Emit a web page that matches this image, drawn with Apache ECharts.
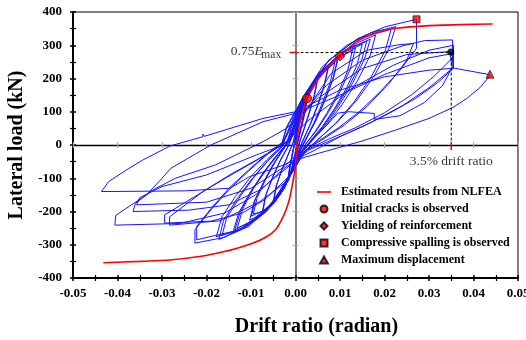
<!DOCTYPE html>
<html><head><meta charset="utf-8">
<script src="https://cdn.jsdelivr.net/npm/echarts@6/dist/echarts.min.js"></script>
<style>html,body{margin:0;padding:0;background:#fff}#c{width:526px;height:340px}</style>
</head><body><div id="c"></div>
<script>
// ---- Data (drift ratio [rad], lateral load [kN]) ----
const c1a = [[0,0],[0.0006,45],[0.0014,95],[0.0026,135],[0.0021,95],[0.0013,50],[0.0006,10],[0.0,-30],[-0.0006,-65],[-0.0014,-100],[-0.0012,-65],[-0.0007,-30],[-0.0002,5]];
const c1b = [[0.0003,35],[0.001,80],[0.0018,112],[0.0024,128],[0.0019,90],[0.0011,45],[0.0004,5],[-0.0002,-35],[-0.0009,-78],[-0.0016,-108],[-0.0013,-70],[-0.0007,-28],[-0.0001,10]];
const c1c = [[0.0002,30],[0.0009,75],[0.0016,105],[0.0021,120],[0.0017,85],[0.001,42],[0.0003,2],[-0.0003,-38],[-0.001,-80],[-0.0018,-112],[-0.0014,-72],[-0.0008,-30],[-0.0002,8]];
const c2a = [[0.0004,55],[0.0014,105],[0.0028,150],[0.0039,178],[0.005,198],[0.0043,150],[0.0032,100],[0.002,50],[0.001,10],[0.0,-40],[-0.0012,-90],[-0.0025,-130],[-0.0038,-155],[-0.005,-170],[-0.0044,-125],[-0.0032,-80],[-0.0018,-35],[-0.0006,5]];
const c2b = [[0.0003,50],[0.0015,105],[0.003,150],[0.0048,190],[0.0041,145],[0.003,95],[0.0018,45],[0.0008,5],[-0.0002,-42],[-0.0015,-98],[-0.003,-138],[-0.0048,-162],[-0.0042,-118],[-0.003,-72],[-0.0017,-30],[-0.0005,8]];
const c3a = [[0.0004,60],[0.0018,120],[0.0035,170],[0.0055,210],[0.0075,240],[0.0066,185],[0.0052,125],[0.0036,70],[0.002,22],[0.0008,-15],[-0.0005,-65],[-0.002,-115],[-0.0038,-155],[-0.0056,-185],[-0.0075,-205],[-0.0068,-155],[-0.0052,-100],[-0.0035,-50],[-0.0018,-8]];
const c3b = [[0.0002,55],[0.0018,125],[0.0038,178],[0.0056,210],[0.0073,232],[0.0064,178],[0.0049,118],[0.0033,62],[0.0018,18],[0.0006,-20],[-0.0008,-75],[-0.0026,-130],[-0.0046,-170],[-0.0073,-198],[-0.0066,-148],[-0.005,-92],[-0.0033,-42],[-0.0016,-2]];
const c4a = [[0.0,60],[0.002,135],[0.0045,195],[0.007,235],[0.0097,268],[0.0086,205],[0.0068,140],[0.0048,80],[0.0028,28],[0.0012,-12],[-0.0005,-70],[-0.0025,-130],[-0.005,-178],[-0.0075,-208],[-0.0103,-226],[-0.0093,-170],[-0.0073,-115],[-0.0052,-62],[-0.003,-18],[-0.0015,10]];
const c4b = [[0.0,65],[0.0025,150],[0.0055,210],[0.0094,255],[0.0083,195],[0.0065,132],[0.0045,72],[0.0026,24],[0.001,-18],[-0.0008,-80],[-0.003,-140],[-0.006,-190],[-0.0099,-214],[-0.009,-162],[-0.007,-108],[-0.0049,-56],[-0.0028,-12],[-0.0013,14]];
const c4c = [[0.0,62],[0.0022,140],[0.005,200],[0.0088,248],[0.0078,188],[0.006,125],[0.0042,68],[0.0024,20],[0.0008,-22],[-0.001,-85],[-0.0035,-150],[-0.0065,-196],[-0.0095,-208],[-0.0086,-158],[-0.0066,-100],[-0.0045,-50],[-0.0025,-8],[-0.001,18]];
const c5a = [[-0.0005,55],[0.0015,130],[0.0045,200],[0.008,250],[0.0115,282],[0.015,303],[0.0138,240],[0.0115,172],[0.0088,110],[0.006,55],[0.0035,15],[0.0015,-20],[-0.0005,-70],[-0.003,-140],[-0.0065,-200],[-0.0105,-240],[-0.0141,-265],[-0.0128,-205],[-0.0103,-145],[-0.0075,-88],[-0.0048,-40],[-0.0025,-5]];
const c5b = [[-0.0008,45],[0.0015,128],[0.005,205],[0.009,255],[0.0135,292],[0.0123,228],[0.01,160],[0.0074,98],[0.0048,45],[0.0026,8],[0.0008,-30],[-0.0012,-90],[-0.004,-160],[-0.008,-215],[-0.0136,-255],[-0.0123,-196],[-0.0098,-136],[-0.007,-80],[-0.0044,-34],[-0.0022,0]];
const c5c = [[-0.0005,50],[0.0018,135],[0.0052,208],[0.0095,262],[0.0128,285],[0.0117,222],[0.0095,155],[0.007,95],[0.0045,42],[0.0024,5],[0.0006,-35],[-0.0015,-100],[-0.0045,-170],[-0.0085,-222],[-0.0131,-250],[-0.0118,-190],[-0.0094,-130],[-0.0066,-75],[-0.004,-30],[-0.002,2]];
const c6a = [[-0.001,50],[0.0015,130],[0.005,210],[0.0095,268],[0.014,308],[0.018,331],[0.0168,270],[0.014,195],[0.0105,122],[0.007,60],[0.004,18],[0.0015,-22],[-0.001,-80],[-0.004,-155],[-0.0085,-220],[-0.013,-258],[-0.0178,-276],[-0.0165,-215],[-0.0135,-155],[-0.01,-95],[-0.0065,-45],[-0.0035,-8]];
const c6b = [[-0.0015,45],[0.0015,135],[0.0055,220],[0.011,285],[0.0168,318],[0.0155,258],[0.0128,185],[0.0096,115],[0.0064,55],[0.0036,12],[0.0012,-28],[-0.0015,-95],[-0.005,-175],[-0.0105,-245],[-0.0172,-284],[-0.0162,-228],[-0.0133,-165],[-0.0098,-102],[-0.0063,-48],[-0.0033,-8]];
const c6c = [[-0.0012,48],[0.0015,132],[0.0055,218],[0.0105,280],[0.016,312],[0.0148,252],[0.0122,180],[0.009,110],[0.006,52],[0.0033,10],[0.001,-30],[-0.0018,-100],[-0.0055,-180],[-0.011,-245],[-0.0165,-272],[-0.0155,-220],[-0.0127,-160],[-0.0094,-98],[-0.006,-45],[-0.003,-6]];
const c7a = [[-0.0015,50],[0.0015,140],[0.006,235],[0.0115,300],[0.017,338],[0.0225,356],[0.021,290],[0.0178,210],[0.0138,135],[0.0095,70],[0.0055,22],[0.002,-20],[-0.001,-85],[-0.005,-170],[-0.01,-235],[-0.016,-278],[-0.0226,-295],[-0.0226,-255],[-0.019,-195],[-0.015,-135],[-0.0105,-78],[-0.0065,-30],[-0.003,5]];
const c7b = [[-0.002,50],[0.002,150],[0.0075,255],[0.014,320],[0.0215,348],[0.0202,285],[0.017,205],[0.0132,130],[0.009,65],[0.0052,18],[0.0018,-25],[-0.0015,-100],[-0.006,-185],[-0.0125,-255],[-0.0222,-285],[-0.0222,-245],[-0.0188,-188],[-0.0148,-128],[-0.0103,-72],[-0.0063,-26],[-0.003,8]];
const c8a = [[-0.002,55],[0.002,150],[0.0075,255],[0.014,320],[0.02,355],[0.0272,378],[0.0272,291],[0.0235,225],[0.019,160],[0.0145,102],[0.0097,52],[0.0055,15],[0.002,-20],[-0.002,-110],[-0.008,-170],[-0.0118,-195],[-0.017,-228],[-0.0283,-241],[-0.0283,-216],[-0.0208,-140],[-0.0148,-90],[-0.0088,-45],[-0.0043,-10],[-0.001,20]];
const c8b = [[0.002,95],[0.008,215],[0.016,285],[0.0235,302],[0.0265,305],[0.025,255],[0.021,185],[0.016,115],[0.011,60],[0.0065,20],[0.0025,-12],[-0.0015,-95],[-0.007,-165],[-0.012,-205],[-0.019,-229],[-0.0294,-235],[-0.0294,-210],[-0.022,-150],[-0.0155,-98],[-0.0095,-52],[-0.0048,-15],[-0.0015,15]];
const c9a = [[0.001,85],[0.007,180],[0.015,255],[0.024,298],[0.029,314],[0.0353,316],[0.0353,262],[0.031,205],[0.026,150],[0.02,97],[0.0135,52],[0.0075,18],[0.0025,-15],[-0.002,-70],[-0.008,-135],[-0.015,-180],[-0.024,-196],[-0.0365,-200],[-0.036,-176],[-0.032,-135],[-0.027,-100],[-0.018,-60],[-0.0073,10],[-0.002,50]];
const c9b = [[0.005,140],[0.015,230],[0.025,272],[0.0347,281],[0.0352,232],[0.033,178],[0.029,128],[0.0235,88],[0.0177,77],[0.0177,95],[0.012,100],[0.0095,96],[0.006,45],[0.002,-8],[-0.003,-70],[-0.01,-130],[-0.02,-172],[-0.0357,-180],[-0.035,-158],[-0.03,-125],[-0.02,-90],[-0.0088,-30],[-0.0028,0]];
const c10 = [[0.003,75],[0.012,165],[0.022,240],[0.03,285],[0.0355,300],[0.0355,231],[0.032,188],[0.027,140],[0.021,95],[0.015,55],[0.009,20],[0.003,-15],[-0.003,-75],[-0.009,-150],[-0.016,-205],[-0.026,-236],[-0.0406,-241],[-0.0404,-212],[-0.038,-190],[-0.0335,-150],[-0.03,-100],[-0.028,-70],[-0.019,0],[-0.0073,70],[0,95],[0.01,150],[0.02,212],[0.03,262],[0.0352,275],[0.0354,232],[0.03,172],[0.024,118],[0.017,68],[0.01,25],[0.004,-18],[-0.003,-62],[-0.0103,-95],[-0.0147,-130],[-0.025,-138],[-0.0436,-140]];
const c11 = [[-0.0436,-135],[-0.042,-110],[-0.038,-75],[-0.0343,-45],[-0.0282,-3],[-0.0208,25],[-0.0208,33],[-0.0205,26],[-0.0073,80],[0,100],[0.01,165],[0.02,205],[0.03,225],[0.0357,231],[0.0435,212],[0.0435,205],[0.0414,172],[0.0385,140],[0.0354,113],[0.03,80],[0.0225,45],[0.015,12],[0.007,-18],[0,-45]];

const nlfea = [[-0.0432,-354],[-0.035,-350],[-0.0283,-346],[-0.0208,-334],[-0.0165,-322],[-0.0133,-311],[-0.0095,-295],[-0.0065,-276],[-0.0045,-255],[-0.0028,-216],[-0.0015,-170],[-0.0005,-105],[0,-60],[0.0003,0],[0.0006,40],[0.0011,75],[0.0018,110],[0.0026,140],[0.0038,172],[0.0055,205],[0.0075,240],[0.010,268],[0.0137,311],[0.0182,338],[0.0227,351],[0.03,359],[0.037,362],[0.0443,364]];

const crackPt = [[0.0026,140]];
const yieldPt = [[0.010,268]];
const spallPt = [[0.0272,378]];
const maxDispPt = [[0.0437,213]];
const drift35Pt = [[0.0349,280]];
const guideH = [[0,278],[0.035,278]];
const guideV = [[0.035,278],[0.035,10]];
const tickEmax = [[-0.00135,278],[0.0007,278]];
const tickDrift = [[0.035,10],[0.035,-15]];

const legendNames = ['Estimated results from NLFEA','Initial cracks is observed','Yielding of reinforcement','Compressive spalling is observed','Maximum displacement'];

const hysteresis = [].concat(c1a,c1b,c1c,c2a,c2b,c3a,c3b,c4a,c4b,c4c,c5a,c5b,c5c,c6a,c6b,c6c,c7a,c7b,c8a,c8b,c9a,c9b,c10,c11);

// ---- Chart ----
const FONT = 'Liberation Serif';
const chart = echarts.init(document.getElementById('c'), null, {renderer:'canvas'});
const X = {type:'value', min:-0.05, max:0.05, interval:0.01, splitLine:{show:false}};
const Y = {type:'value', min:-400, max:400, interval:100, splitLine:{show:false}};
const lblX = {fontFamily:FONT, fontWeight:'bold', fontSize:13, color:'#000', margin:9, formatter:v=>v.toFixed(2)};
const lblY = {fontFamily:FONT, fontWeight:'bold', fontSize:13, color:'#000', margin:11};
const mk = {color:'#ff0000', borderColor:'#000', borderWidth:0.8};

chart.setOption({
  animation:false,
  backgroundColor:'#fff',
  grid:{left:73, right:8, top:12, bottom:62, outerBoundsMode:'none', containLabel:false, show:true, borderColor:'#000', borderWidth:1, backgroundColor:'transparent'},
  xAxis:[
    Object.assign({}, X, {position:'bottom', axisLine:{onZero:false, lineStyle:{color:'#000', width:2}},
      axisTick:{length:3, lineStyle:{color:'#000', width:1.5}}, minorTick:{show:true, splitNumber:2, length:3, lineStyle:{color:'#000', width:1.2}},
      axisLabel:lblX, name:'Drift ratio (radian)', nameLocation:'middle', nameGap:39,
      nameTextStyle:{fontFamily:FONT, fontWeight:'bold', fontSize:20, color:'#000', padding:[0,0,0,42]}}),
    Object.assign({}, X, {position:'bottom', axisLine:{show:false, onZero:false},
      axisTick:{inside:true, length:3, lineStyle:{color:'#000', width:1.5}}, minorTick:{show:true, splitNumber:2, length:3, lineStyle:{color:'#000', width:1.2}},
      axisLabel:{show:false}}),
    Object.assign({}, X, {position:'bottom', axisLine:{onZero:true, onZeroAxisIndex:0, lineStyle:{color:'#000', width:1.3}},
      axisTick:{length:3, lineStyle:{color:'#aaa', width:1.2}}, axisLabel:{show:false}}),
    Object.assign({}, X, {position:'bottom', axisLine:{show:false, onZero:true, onZeroAxisIndex:0},
      axisTick:{inside:true, length:3, lineStyle:{color:'#aaa', width:1.2}}, axisLabel:{show:false}})
  ],
  yAxis:[
    Object.assign({}, Y, {position:'left', axisLine:{onZero:false, lineStyle:{color:'#000', width:2}},
      axisTick:{length:3, lineStyle:{color:'#000', width:1.5}}, minorTick:{show:true, splitNumber:2, length:3, lineStyle:{color:'#000', width:1.2}},
      axisLabel:lblY, name:'Lateral load (kN)', nameLocation:'middle', nameGap:45,
      nameTextStyle:{fontFamily:FONT, fontWeight:'bold', fontSize:20, color:'#000'}}),
    Object.assign({}, Y, {position:'left', axisLine:{show:false, onZero:false},
      axisTick:{inside:true, length:3, lineStyle:{color:'#000', width:1.5}}, minorTick:{show:true, splitNumber:2, length:3, lineStyle:{color:'#000', width:1.2}},
      axisLabel:{show:false}}),
    Object.assign({}, Y, {position:'left', axisLine:{onZero:true, onZeroAxisIndex:0, lineStyle:{color:'#555', width:1.5}},
      axisTick:{length:3, lineStyle:{color:'#aaa', width:1.2}}, axisLabel:{show:false}}),
    Object.assign({}, Y, {position:'left', axisLine:{show:false, onZero:true, onZeroAxisIndex:0},
      axisTick:{inside:true, length:3, lineStyle:{color:'#aaa', width:1.2}}, axisLabel:{show:false}})
  ],
  legend:{
    data:[
      {name:legendNames[0], icon:'path://M0,0h14v1.6h-14z'},
      {name:legendNames[1], icon:'circle'},
      {name:legendNames[2], icon:'path://M5,0L10,5L5,10L0,5z'},
      {name:legendNames[3], icon:'path://M0,0h10v10h-10z'},
      {name:legendNames[4], icon:'path://M5,0L10,9L0,9z'}
    ],
    orient:'vertical', left:317, top:186, padding:0, itemWidth:14, itemHeight:7, itemGap:5, symbolKeepAspect:true,
    selectedMode:false, textStyle:{fontFamily:FONT, fontWeight:'bold', fontSize:12, color:'#000', padding:[0,0,0,5]}
  },
  series:[
    {name:'Test', type:'line', data:hysteresis, symbol:'none', lineStyle:{color:'#1515ff', width:1}, z:2},
    {name:'guideH', type:'line', data:guideH, symbol:'none', lineStyle:{color:'#000', width:1, type:[3,2]}, z:3},
    {name:'guideV', type:'line', data:guideV, symbol:'none', lineStyle:{color:'#000', width:1, type:[3,2]}, z:3},
    {name:'tickE', type:'line', data:tickEmax, symbol:'none', lineStyle:{color:'#ff0000', width:1.5}, z:4},
    {name:'tickD', type:'line', data:tickDrift, symbol:'none', lineStyle:{color:'#ff0000', width:1.5}, z:4},
    {name:legendNames[0], type:'line', data:nlfea, symbol:'none', smooth:0.2, lineStyle:{color:'#ff0000', width:1.6}, itemStyle:{color:'#ff0000'}, z:5},
    {name:legendNames[1], type:'scatter', data:crackPt, symbol:'circle', symbolSize:9, itemStyle:mk, z:6},
    {name:legendNames[2], type:'scatter', data:yieldPt, symbol:'diamond', symbolSize:10, itemStyle:mk, z:6},
    {name:legendNames[3], type:'scatter', data:spallPt, symbol:'rect', symbolSize:7, itemStyle:mk, z:6},
    {name:legendNames[4], type:'scatter', data:maxDispPt, symbol:'triangle', symbolSize:8, itemStyle:mk, z:6},
    {name:'drift35', type:'scatter', data:drift35Pt, symbol:'circle', symbolSize:7, itemStyle:{color:'#000'}, z:6},
    {name:'annot', type:'scatter', symbol:'circle', symbolSize:0.1, itemStyle:{color:'rgba(0,0,0,0)'}, z:7, silent:true,
      data:[
        {value:[-0.00735,280], label:{show:true, position:'left', distance:0, formatter:'{n|0.75}{e|E}',
          rich:{n:{fontFamily:FONT, fontSize:13.5, color:'#000'}, e:{fontFamily:FONT, fontSize:13.5, fontStyle:'italic', color:'#000'}}}},
        {value:[-0.00769,271], label:{show:true, position:'right', distance:0, formatter:'max',
          fontFamily:FONT, fontSize:11.5, color:'#000'}},
        {value:[0.035,-48], label:{show:true, position:'inside', formatter:'3.5% drift ratio',
          fontFamily:FONT, fontSize:13.5, color:'#000'}}
      ]}
  ]
});
</script>
</body></html>
